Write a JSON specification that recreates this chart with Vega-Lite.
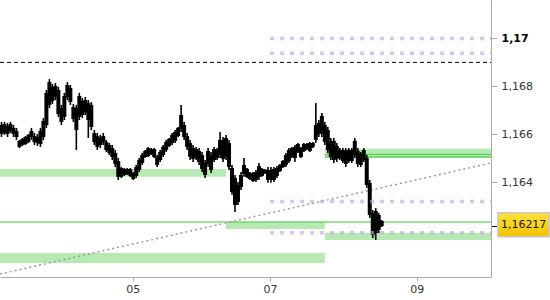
{
  "$schema": "https://vega.github.io/schema/vega-lite/v6.json",
  "width": 491,
  "height": 277,
  "autosize": "none",
  "padding": {"left": 0, "top": 0, "right": 59, "bottom": 23},
  "background": "white",
  "config": {
    "view": {"stroke": null},
    "axis": {"labelFont": "DejaVu Sans", "labelFontSize": 11, "labelColor": "#333", "domainColor": "#aaa", "tickColor": "#aaa", "grid": false, "title": null}
  },
  "datasets": {
    "wicks": [
      {"x":0.5,"y":1.16589,"y2":1.16652},{"x":1.5,"y":1.16598,"y2":1.16652},{"x":2.5,"y":1.16589,"y2":1.16648},{"x":3.5,"y":1.16606,"y2":1.16652},
      {"x":4.5,"y":1.16589,"y2":1.16639},{"x":5.5,"y":1.16577,"y2":1.16627},{"x":6.5,"y":1.16543,"y2":1.16577},{"x":7.5,"y":1.16552,"y2":1.16585},
      {"x":8.5,"y":1.16556,"y2":1.16593},{"x":9.5,"y":1.16564,"y2":1.16602},{"x":10.5,"y":1.16577,"y2":1.16627},{"x":11.5,"y":1.16556,"y2":1.16606},
      {"x":12.5,"y":1.16552,"y2":1.16602},{"x":13.5,"y":1.16548,"y2":1.16627},{"x":14.5,"y":1.16577,"y2":1.16668},{"x":15.5,"y":1.16627,"y2":1.16785},
      {"x":16.5,"y":1.16710,"y2":1.16831},{"x":17.5,"y":1.16727,"y2":1.16810},{"x":18.5,"y":1.16743,"y2":1.16814},{"x":19.5,"y":1.16673,"y2":1.16798},
      {"x":20.5,"y":1.16639,"y2":1.16723},{"x":21.5,"y":1.16660,"y2":1.16773},{"x":22.5,"y":1.16743,"y2":1.16818},{"x":23.5,"y":1.16723,"y2":1.16806},
      {"x":24.5,"y":1.16652,"y2":1.16727},{"x":25.5,"y":1.16535,"y2":1.16723},{"x":26.5,"y":1.16660,"y2":1.16773},{"x":27.5,"y":1.16668,"y2":1.16752},
      {"x":28.5,"y":1.16681,"y2":1.16756},{"x":29.5,"y":1.16585,"y2":1.16743},{"x":30.5,"y":1.16618,"y2":1.16735},{"x":31.5,"y":1.16556,"y2":1.16618},
      {"x":32.5,"y":1.16535,"y2":1.16606},{"x":33.5,"y":1.16543,"y2":1.16598},{"x":34.5,"y":1.16556,"y2":1.16606},{"x":35.5,"y":1.16527,"y2":1.16577},
      {"x":36.5,"y":1.16514,"y2":1.16564},{"x":37.5,"y":1.16493,"y2":1.16556},{"x":38.5,"y":1.16464,"y2":1.16535},{"x":39.5,"y":1.16410,"y2":1.16502},
      {"x":40.5,"y":1.16418,"y2":1.16464},{"x":41.5,"y":1.16427,"y2":1.16460},{"x":42.5,"y":1.16431,"y2":1.16460},{"x":43.5,"y":1.16423,"y2":1.16460},
      {"x":44.5,"y":1.16410,"y2":1.16443},{"x":45.5,"y":1.16418,"y2":1.16473},{"x":46.5,"y":1.16443,"y2":1.16502},{"x":47.5,"y":1.16473,"y2":1.16523},
      {"x":48.5,"y":1.16502,"y2":1.16535},{"x":49.5,"y":1.16506,"y2":1.16548},{"x":50.5,"y":1.16514,"y2":1.16543},{"x":51.5,"y":1.16502,"y2":1.16543},
      {"x":52.5,"y":1.16464,"y2":1.16514},{"x":53.5,"y":1.16485,"y2":1.16535},{"x":54.5,"y":1.16506,"y2":1.16556},{"x":55.5,"y":1.16527,"y2":1.16577},
      {"x":56.5,"y":1.16548,"y2":1.16585},{"x":57.5,"y":1.16556,"y2":1.16606},{"x":58.5,"y":1.16564,"y2":1.16618},{"x":59.5,"y":1.16589,"y2":1.16631},
      {"x":60.5,"y":1.16610,"y2":1.16723},{"x":61.5,"y":1.16577,"y2":1.16652},{"x":62.5,"y":1.16535,"y2":1.16606},{"x":63.5,"y":1.16493,"y2":1.16577},
      {"x":64.5,"y":1.16485,"y2":1.16556},{"x":65.5,"y":1.16493,"y2":1.16548},{"x":66.5,"y":1.16473,"y2":1.16543},{"x":67.5,"y":1.16443,"y2":1.16527},
      {"x":68.5,"y":1.16418,"y2":1.16493},{"x":69.5,"y":1.16464,"y2":1.16543},{"x":70.5,"y":1.16439,"y2":1.16527},{"x":71.5,"y":1.16485,"y2":1.16548},
      {"x":72.5,"y":1.16493,"y2":1.16543},{"x":73.5,"y":1.16502,"y2":1.16610},{"x":74.5,"y":1.16485,"y2":1.16589},{"x":75.5,"y":1.16493,"y2":1.16598},
      {"x":76.5,"y":1.16452,"y2":1.16577},{"x":77.5,"y":1.16348,"y2":1.16473},{"x":78.5,"y":1.16277,"y2":1.16431},{"x":79.5,"y":1.16306,"y2":1.16402},
      {"x":80.5,"y":1.16368,"y2":1.16443},{"x":81.5,"y":1.16423,"y2":1.16502},{"x":82.5,"y":1.16418,"y2":1.16460},{"x":83.5,"y":1.16410,"y2":1.16443},
      {"x":84.5,"y":1.16402,"y2":1.16443},{"x":85.5,"y":1.16402,"y2":1.16452},{"x":86.5,"y":1.16410,"y2":1.16481},{"x":87.5,"y":1.16423,"y2":1.16460},
      {"x":88.5,"y":1.16435,"y2":1.16456},{"x":89.5,"y":1.16398,"y2":1.16464},{"x":90.5,"y":1.16398,"y2":1.16464},{"x":91.5,"y":1.16402,"y2":1.16464},
      {"x":92.5,"y":1.16418,"y2":1.16468},{"x":93.5,"y":1.16443,"y2":1.16477},{"x":94.5,"y":1.16460,"y2":1.16493},{"x":95.5,"y":1.16464,"y2":1.16523},
      {"x":96.5,"y":1.16481,"y2":1.16543},{"x":97.5,"y":1.16502,"y2":1.16548},{"x":98.5,"y":1.16485,"y2":1.16556},{"x":99.5,"y":1.16523,"y2":1.16564},
      {"x":100.5,"y":1.16502,"y2":1.16548},{"x":101.5,"y":1.16527,"y2":1.16564},{"x":102.5,"y":1.16535,"y2":1.16564},{"x":103.5,"y":1.16527,"y2":1.16568},
      {"x":104.5,"y":1.16543,"y2":1.16568},{"x":105.5,"y":1.16564,"y2":1.16731},{"x":106.5,"y":1.16589,"y2":1.16660},{"x":107.5,"y":1.16589,"y2":1.16689},
      {"x":108.5,"y":1.16556,"y2":1.16652},{"x":109.5,"y":1.16523,"y2":1.16631},{"x":110.5,"y":1.16493,"y2":1.16585},{"x":111.5,"y":1.16481,"y2":1.16585},
      {"x":112.5,"y":1.16485,"y2":1.16564},{"x":113.5,"y":1.16493,"y2":1.16543},{"x":114.5,"y":1.16481,"y2":1.16543},{"x":115.5,"y":1.16464,"y2":1.16543},
      {"x":116.5,"y":1.16481,"y2":1.16543},{"x":117.5,"y":1.16481,"y2":1.16543},{"x":118.5,"y":1.16502,"y2":1.16585},{"x":119.5,"y":1.16464,"y2":1.16543},
      {"x":120.5,"y":1.16464,"y2":1.16527},{"x":121.5,"y":1.16485,"y2":1.16543},{"x":122.5,"y":1.16377,"y2":1.16514},{"x":123.5,"y":1.16252,"y2":1.16410},
      {"x":124.5,"y":1.16168,"y2":1.16285},{"x":125.5,"y":1.16160,"y2":1.16293},{"x":126.5,"y":1.16189,"y2":1.16273},{"x":127.5,"y":1.16214,"y2":1.16243}
    ],
    "bodies": [
      {"x":0.5,"y":1.16602,"y2":1.16639},{"x":1.5,"y":1.16606,"y2":1.16643},{"x":2.5,"y":1.16602,"y2":1.16635},{"x":3.5,"y":1.16614,"y2":1.16643},
      {"x":4.5,"y":1.16602,"y2":1.16627},{"x":5.5,"y":1.16589,"y2":1.16614},{"x":6.5,"y":1.16548,"y2":1.16573},{"x":7.5,"y":1.16556,"y2":1.16581},
      {"x":8.5,"y":1.16560,"y2":1.16589},{"x":9.5,"y":1.16568,"y2":1.16598},{"x":10.5,"y":1.16589,"y2":1.16614},{"x":11.5,"y":1.16568,"y2":1.16593},
      {"x":12.5,"y":1.16564,"y2":1.16589},{"x":13.5,"y":1.16560,"y2":1.16614},{"x":14.5,"y":1.16589,"y2":1.16656},{"x":15.5,"y":1.16639,"y2":1.16773},
      {"x":16.5,"y":1.16723,"y2":1.16818},{"x":17.5,"y":1.16739,"y2":1.16798},{"x":18.5,"y":1.16756,"y2":1.16802},{"x":19.5,"y":1.16685,"y2":1.16785},
      {"x":20.5,"y":1.16652,"y2":1.16710},{"x":21.5,"y":1.16673,"y2":1.16760},{"x":22.5,"y":1.16756,"y2":1.16806},{"x":23.5,"y":1.16735,"y2":1.16793},
      {"x":24.5,"y":1.16664,"y2":1.16714},{"x":25.5,"y":1.16618,"y2":1.16710},{"x":26.5,"y":1.16673,"y2":1.16760},{"x":27.5,"y":1.16681,"y2":1.16739},
      {"x":28.5,"y":1.16693,"y2":1.16743},{"x":29.5,"y":1.16660,"y2":1.16731},{"x":30.5,"y":1.16631,"y2":1.16723},{"x":31.5,"y":1.16568,"y2":1.16606},
      {"x":32.5,"y":1.16548,"y2":1.16593},{"x":33.5,"y":1.16556,"y2":1.16585},{"x":34.5,"y":1.16568,"y2":1.16593},{"x":35.5,"y":1.16535,"y2":1.16568},
      {"x":36.5,"y":1.16523,"y2":1.16556},{"x":37.5,"y":1.16506,"y2":1.16543},{"x":38.5,"y":1.16477,"y2":1.16523},{"x":39.5,"y":1.16423,"y2":1.16489},
      {"x":40.5,"y":1.16423,"y2":1.16460},{"x":41.5,"y":1.16431,"y2":1.16456},{"x":42.5,"y":1.16435,"y2":1.16456},{"x":43.5,"y":1.16427,"y2":1.16456},
      {"x":44.5,"y":1.16414,"y2":1.16439},{"x":45.5,"y":1.16427,"y2":1.16464},{"x":46.5,"y":1.16452,"y2":1.16493},{"x":47.5,"y":1.16481,"y2":1.16514},
      {"x":48.5,"y":1.16506,"y2":1.16531},{"x":49.5,"y":1.16510,"y2":1.16543},{"x":50.5,"y":1.16518,"y2":1.16539},{"x":51.5,"y":1.16506,"y2":1.16539},
      {"x":52.5,"y":1.16473,"y2":1.16506},{"x":53.5,"y":1.16493,"y2":1.16527},{"x":54.5,"y":1.16514,"y2":1.16548},{"x":55.5,"y":1.16535,"y2":1.16568},
      {"x":56.5,"y":1.16552,"y2":1.16581},{"x":57.5,"y":1.16564,"y2":1.16598},{"x":58.5,"y":1.16573,"y2":1.16610},{"x":59.5,"y":1.16593,"y2":1.16627},
      {"x":60.5,"y":1.16623,"y2":1.16681},{"x":61.5,"y":1.16589,"y2":1.16639},{"x":62.5,"y":1.16548,"y2":1.16593},{"x":63.5,"y":1.16506,"y2":1.16564},
      {"x":64.5,"y":1.16498,"y2":1.16543},{"x":65.5,"y":1.16502,"y2":1.16539},{"x":66.5,"y":1.16485,"y2":1.16531},{"x":67.5,"y":1.16456,"y2":1.16514},
      {"x":68.5,"y":1.16431,"y2":1.16481},{"x":69.5,"y":1.16477,"y2":1.16531},{"x":70.5,"y":1.16452,"y2":1.16514},{"x":71.5,"y":1.16493,"y2":1.16539},
      {"x":72.5,"y":1.16502,"y2":1.16535},{"x":73.5,"y":1.16514,"y2":1.16577},{"x":74.5,"y":1.16498,"y2":1.16577},{"x":75.5,"y":1.16506,"y2":1.16585},
      {"x":76.5,"y":1.16464,"y2":1.16564},{"x":77.5,"y":1.16360,"y2":1.16460},{"x":78.5,"y":1.16306,"y2":1.16418},{"x":79.5,"y":1.16318,"y2":1.16389},
      {"x":80.5,"y":1.16381,"y2":1.16431},{"x":81.5,"y":1.16435,"y2":1.16473},{"x":82.5,"y":1.16423,"y2":1.16456},{"x":83.5,"y":1.16414,"y2":1.16439},
      {"x":84.5,"y":1.16406,"y2":1.16439},{"x":85.5,"y":1.16410,"y2":1.16443},{"x":86.5,"y":1.16423,"y2":1.16468},{"x":87.5,"y":1.16427,"y2":1.16456},
      {"x":88.5,"y":1.16439,"y2":1.16452},{"x":89.5,"y":1.16410,"y2":1.16452},{"x":90.5,"y":1.16410,"y2":1.16452},{"x":91.5,"y":1.16410,"y2":1.16456},
      {"x":92.5,"y":1.16427,"y2":1.16460},{"x":93.5,"y":1.16448,"y2":1.16473},{"x":94.5,"y":1.16464,"y2":1.16489},{"x":95.5,"y":1.16473,"y2":1.16514},
      {"x":96.5,"y":1.16489,"y2":1.16535},{"x":97.5,"y":1.16506,"y2":1.16543},{"x":98.5,"y":1.16502,"y2":1.16548},{"x":99.5,"y":1.16527,"y2":1.16560},
      {"x":100.5,"y":1.16506,"y2":1.16543},{"x":101.5,"y":1.16531,"y2":1.16560},{"x":102.5,"y":1.16539,"y2":1.16560},{"x":103.5,"y":1.16531,"y2":1.16564},
      {"x":104.5,"y":1.16548,"y2":1.16564},{"x":105.5,"y":1.16577,"y2":1.16639},{"x":106.5,"y":1.16602,"y2":1.16648},{"x":107.5,"y":1.16602,"y2":1.16677},
      {"x":108.5,"y":1.16568,"y2":1.16639},{"x":109.5,"y":1.16535,"y2":1.16618},{"x":110.5,"y":1.16506,"y2":1.16573},{"x":111.5,"y":1.16493,"y2":1.16573},
      {"x":112.5,"y":1.16498,"y2":1.16552},{"x":113.5,"y":1.16502,"y2":1.16535},{"x":114.5,"y":1.16489,"y2":1.16535},{"x":115.5,"y":1.16477,"y2":1.16531},
      {"x":116.5,"y":1.16489,"y2":1.16535},{"x":117.5,"y":1.16489,"y2":1.16535},{"x":118.5,"y":1.16514,"y2":1.16573},{"x":119.5,"y":1.16477,"y2":1.16531},
      {"x":120.5,"y":1.16473,"y2":1.16518},{"x":121.5,"y":1.16493,"y2":1.16535},{"x":122.5,"y":1.16389,"y2":1.16502},{"x":123.5,"y":1.16264,"y2":1.16398},
      {"x":124.5,"y":1.16181,"y2":1.16273},{"x":125.5,"y":1.16189,"y2":1.16281},{"x":126.5,"y":1.16202,"y2":1.16264},{"x":127.5,"y":1.16218,"y2":1.16239}
    ],
    "bands": [
      {"x":0,"x2":75.5,"y":1.16423,"y2":1.16456},
      {"x":0,"x2":108.5,"y":1.16064,"y2":1.16106},
      {"x":75.5,"x2":108.5,"y":1.16206,"y2":1.16235},
      {"x":108.5,"x2":164,"y":1.16160,"y2":1.16190},
      {"x":108.5,"x2":164,"y":1.16502,"y2":1.16541}
    ],
    "greenlines": [
      {"x":0,"x2":164,"y":1.16235},
      {"x":108.5,"x2":164,"y":1.16517},
      {"x":108.5,"x2":164,"y":1.16506}
    ],
    "blackdash": [{"x":0,"x2":164,"y":1.169}],
    "purple": [
      {"x":90.2,"x2":164,"y":1.17},
      {"x":90.2,"x2":164,"y":1.16938},
      {"x":90.2,"x2":164,"y":1.16320},
      {"x":90.2,"x2":164,"y":1.16190}
    ],
    "trend": [{"x":0,"y":1.16018},{"x":164,"y":1.16481}],
    "pricebox": [{"x":166.3,"x2":183.4,"y":1.16173,"y2":1.16273}],
    "pricelabel": [{"x":174.9,"y":1.16222,"label":"1,16217"}]
  },
  "encoding": {
    "x": {
      "field": "x", "type": "quantitative",
      "scale": {"domain": [0, 164], "nice": false, "zero": false, "padding": 0},
      "axis": {
        "orient": "bottom", "values": [44.3, 90.2, 139.2],
        "labelExpr": "datum.value < 60 ? '05' : (datum.value < 110 ? '07' : '09')",
        "tickSize": 4, "labelPadding": 2, "labelFlush": false
      }
    },
    "y": {
      "field": "y", "type": "quantitative",
      "scale": {"domain": [1.160058, 1.1716], "nice": false, "zero": false, "padding": 0},
      "axis": {
        "orient": "right", "values": [1.164, 1.166, 1.168, 1.17, 1.16217],
        "labelExpr": "datum.value < 1.163 ? '' : replace(format(datum.value, '.3~f'), '.', ',')",
        "labelFontWeight": {"condition": {"test": "datum.value > 1.1695", "value": "bold"}, "value": "normal"},
        "labelColor": {"condition": {"test": "datum.value > 1.1695", "value": "#000"}, "value": "#333"},
        "tickColor": {"condition": {"test": "datum.value < 1.163", "value": "#000"}, "value": "#aaa"},
        "tickSize": 6, "labelPadding": 4, "labelFlush": false, "labelBaseline": "middle"
      }
    }
  },
  "layer": [
    {"data": {"name": "bands"}, "mark": {"type": "rect", "color": "#b7eab3"}, "encoding": {"x2": {"field": "x2"}, "y2": {"field": "y2"}}},
    {"data": {"name": "greenlines"}, "mark": {"type": "rule", "color": "#3cc83c", "strokeWidth": 1}, "encoding": {"x2": {"field": "x2"}}},
    {"data": {"name": "trend"}, "mark": {"type": "line", "color": "#9a9a9a", "strokeWidth": 1.5, "strokeDash": [2, 3]}, "encoding": {}},
    {"data": {"name": "blackdash"}, "mark": {"type": "rule", "color": "#000", "strokeWidth": 1, "strokeDash": [4, 3]}, "encoding": {"x2": {"field": "x2"}}},
    {"data": {"name": "wicks"}, "mark": {"type": "rule", "color": "#000", "strokeWidth": 1.6}, "encoding": {"y2": {"field": "y2"}}},
    {"data": {"name": "bodies"}, "mark": {"type": "bar", "color": "#000", "size": 4}, "encoding": {"y2": {"field": "y2"}}},
    {"data": {"name": "purple"}, "mark": {"type": "rule", "color": "#c9a0e8", "opacity": 0.65, "strokeWidth": 3.5, "strokeDash": [4, 6]}, "encoding": {"x2": {"field": "x2"}}},
    {"data": {"name": "pricebox"}, "mark": {"type": "rect", "clip": false, "stroke": "#c8c8c8", "strokeWidth": 1.5,
      "fill": {"gradient": "linear", "x1": 0, "y1": 0, "x2": 0, "y2": 1, "stops": [{"offset": 0, "color": "#ffe23a"}, {"offset": 1, "color": "#f2c200"}]}},
      "encoding": {"x2": {"field": "x2"}, "y2": {"field": "y2"}}},
    {"data": {"name": "pricelabel"}, "mark": {"type": "text", "clip": false, "font": "DejaVu Sans", "fontSize": 11, "color": "#1a1a00", "align": "center", "baseline": "middle"},
      "encoding": {"text": {"field": "label"}}}
  ]
}
